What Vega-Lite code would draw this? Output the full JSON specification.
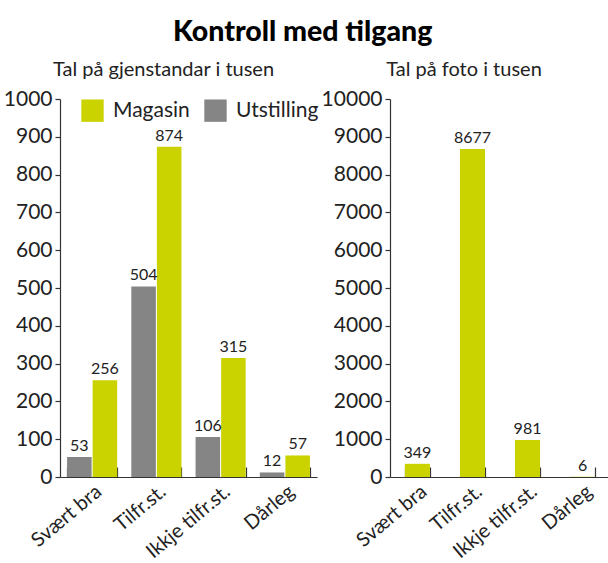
{
  "$schema": "https://vega.github.io/schema/vega-lite/v6.json",
  "title": {"text": "Kontroll med tilgang", "fontSize": 28.5, "font": "Lato", "fontWeight": 900, "color": "#000", "anchor": "middle", "offset": 14, "dx": -4},
  "padding": {"left": 3, "top": 17, "right": 0, "bottom": 0},
  "spacing": 4,
  "config": {
    "view": {"stroke": null},
    "font": "Lato",
    "axis": {"grid": false, "domainColor": "#333", "tickColor": "#333", "labelColor": "#222", "labelFont": "Lato", "domainWidth": 1.2, "tickWidth": 1.2},
    "title": {"font": "Lato", "fontSize": 20, "fontWeight": "normal", "color": "#222", "offset": 8}
  },
  "datasets": {
    "gjenstandar": [
      {"kategori": "Svært bra", "type": "Utstilling", "verdi": 53},
      {"kategori": "Svært bra", "type": "Magasin", "verdi": 256},
      {"kategori": "Tilfr.st.", "type": "Utstilling", "verdi": 504},
      {"kategori": "Tilfr.st.", "type": "Magasin", "verdi": 874},
      {"kategori": "Ikkje tilfr.st.", "type": "Utstilling", "verdi": 106},
      {"kategori": "Ikkje tilfr.st.", "type": "Magasin", "verdi": 315},
      {"kategori": "Dårleg", "type": "Utstilling", "verdi": 12},
      {"kategori": "Dårleg", "type": "Magasin", "verdi": 57}
    ],
    "foto": [
      {"kategori": "Svært bra", "verdi": 349},
      {"kategori": "Tilfr.st.", "verdi": 8677},
      {"kategori": "Ikkje tilfr.st.", "verdi": 981},
      {"kategori": "Dårleg", "verdi": 6}
    ]
  },
  "hconcat": [
    {
      "width": 257,
      "height": 378,
      "title": {"text": "Tal på gjenstandar i tusen", "dx": -25},
      "data": {"name": "gjenstandar"},
      "encoding": {
        "x": {"field": "kategori", "type": "nominal", "sort": ["Svært bra", "Tilfr.st.", "Ikkje tilfr.st.", "Dårleg"],
              "scale": {"paddingInner": 0.22, "paddingOuter": 0.11},
              "axis": {"title": null, "labelAngle": -40, "labelFontSize": 20, "tickBand": "extent", "tickSize": -10, "labelPadding": 14}},
        "xOffset": {"field": "type", "type": "nominal", "sort": ["Utstilling", "Magasin"], "scale": {"paddingInner": 0.04}},
        "y": {"field": "verdi", "type": "quantitative", "scale": {"domain": [0, 1000]},
              "axis": {"title": null, "values": [0, 100, 200, 300, 400, 500, 600, 700, 800, 900, 1000], "format": "d", "labelFontSize": 21, "tickSize": 5, "labelPadding": 3}}
      },
      "layer": [
        {
          "mark": {"type": "bar"},
          "encoding": {
            "color": {"field": "type", "type": "nominal",
                      "scale": {"domain": ["Magasin", "Utstilling"], "range": ["#cad300", "#858585"]},
                      "legend": {"title": null, "orient": "none", "legendX": 21, "legendY": 0, "direction": "horizontal",
                                 "symbolType": "square", "symbolSize": 500, "symbolStrokeWidth": 0, "labelFontSize": 21,
                                 "labelColor": "#222", "labelOffset": 9, "columnPadding": 14, "labelFont": "Lato"}}
          }
        },
        {
          "mark": {"type": "text", "baseline": "bottom", "dy": -3, "fontSize": 16, "color": "#222"},
          "encoding": {"text": {"field": "verdi", "type": "quantitative"}}
        }
      ]
    },
    {
      "width": 220,
      "height": 378,
      "title": {"text": "Tal på foto i tusen", "dx": -36},
      "data": {"name": "foto"},
      "encoding": {
        "x": {"field": "kategori", "type": "nominal", "sort": ["Svært bra", "Tilfr.st.", "Ikkje tilfr.st.", "Dårleg"],
              "scale": {"paddingInner": 0.545, "paddingOuter": 0.27},
              "axis": {"title": null, "labelAngle": -40, "labelFontSize": 20, "tickBand": "extent", "tickSize": -10, "labelPadding": 14}},
        "y": {"field": "verdi", "type": "quantitative", "scale": {"domain": [0, 10000]},
              "axis": {"title": null, "values": [0, 1000, 2000, 3000, 4000, 5000, 6000, 7000, 8000, 9000, 10000], "format": "d", "labelFontSize": 21, "tickSize": 5, "labelPadding": 3}}
      },
      "layer": [
        {"mark": {"type": "bar", "color": "#cad300"}},
        {
          "mark": {"type": "text", "baseline": "bottom", "dy": -3, "fontSize": 16, "color": "#222"},
          "encoding": {"text": {"field": "verdi", "type": "quantitative"}}
        }
      ]
    }
  ]
}
